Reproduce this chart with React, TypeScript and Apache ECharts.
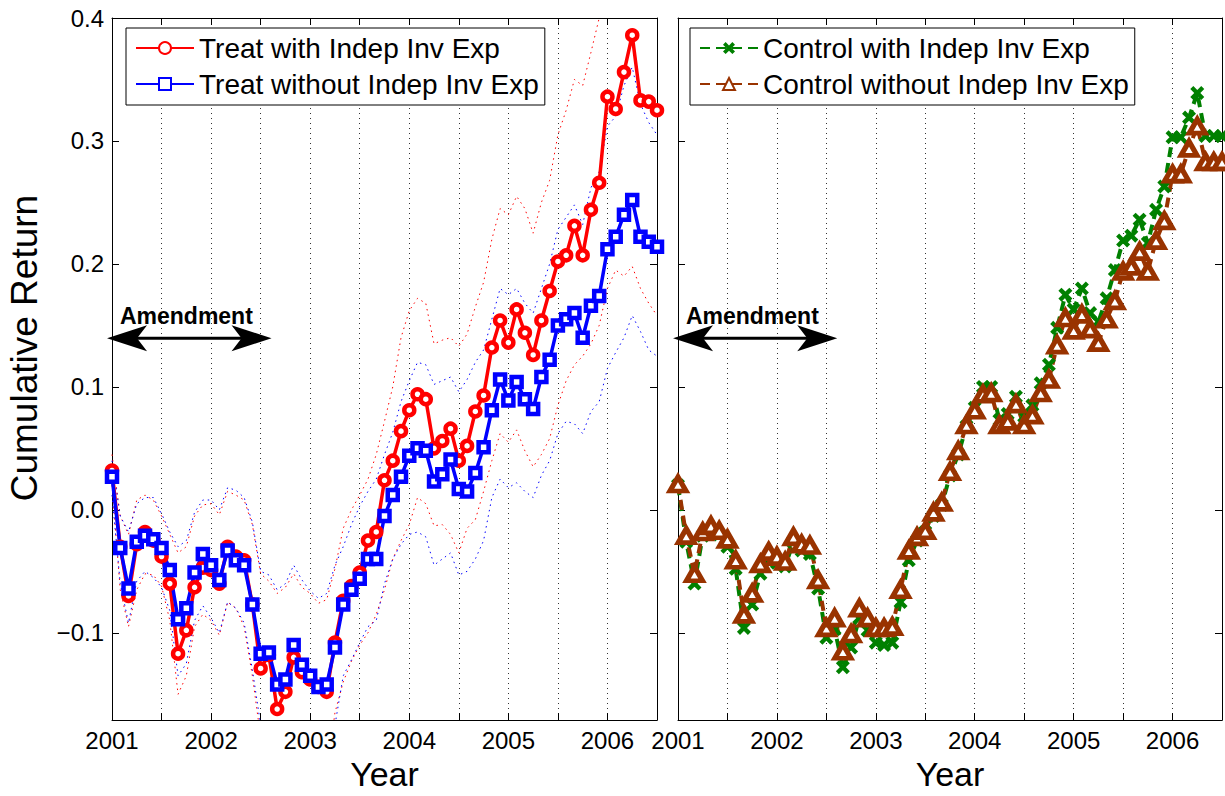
import React, { useEffect, useRef } from "react";
import * as echarts from "echarts";

// ---------- data (monthly, Jan 2001 .. Jul 2006) ----------
const startYear = 2001;
const monthCount = 67;

const treatWith = [
  0.032, -0.030, -0.070, -0.028, -0.018, -0.025, -0.038, -0.060, -0.117, -0.098,
  -0.063, -0.047, -0.049, -0.060, -0.030, -0.038, -0.041, -0.077, -0.129, -0.118,
  -0.162, -0.148, -0.120, -0.132, -0.138, -0.144, -0.148, -0.108, -0.074, -0.062,
  -0.051, -0.025, -0.018, 0.024, 0.040, 0.064, 0.081, 0.094, 0.090, 0.050,
  0.056, 0.066, 0.040, 0.052, 0.080, 0.093, 0.132, 0.154, 0.136, 0.163,
  0.144, 0.126, 0.154, 0.178, 0.202, 0.207, 0.231, 0.207, 0.244, 0.266,
  0.336, 0.326, 0.356, 0.386, 0.333, 0.332, 0.325,
];
const treatWithout = [
  0.027, -0.031, -0.064, -0.026, -0.021, -0.024, -0.031, -0.049, -0.089, -0.080,
  -0.051, -0.036, -0.045, -0.057, -0.033, -0.041, -0.045, -0.077, -0.117, -0.116,
  -0.142, -0.138, -0.110, -0.126, -0.135, -0.144, -0.142, -0.112, -0.077, -0.065,
  -0.056, -0.040, -0.040, -0.005, 0.012, 0.027, 0.044, 0.050, 0.048, 0.023,
  0.029, 0.041, 0.017, 0.015, 0.030, 0.051, 0.081, 0.106, 0.089, 0.104,
  0.090, 0.082, 0.108, 0.122, 0.150, 0.155, 0.160, 0.140, 0.166, 0.174,
  0.212, 0.222, 0.240, 0.252, 0.222, 0.218, 0.214,
];
const controlWith = [
  0.020, -0.026, -0.060, -0.021, -0.016, -0.020, -0.030, -0.048, -0.096, -0.077,
  -0.052, -0.040, -0.043, -0.046, -0.026, -0.033, -0.036, -0.064, -0.104, -0.097,
  -0.128, -0.112, -0.088, -0.098, -0.108, -0.110, -0.108, -0.075, -0.041, -0.025,
  -0.018, -0.005, 0.004, 0.028, 0.045, 0.068, 0.083, 0.100, 0.100, 0.073,
  0.078, 0.092, 0.076, 0.085, 0.103, 0.118, 0.148, 0.175, 0.163, 0.180,
  0.160, 0.153, 0.172, 0.195, 0.219, 0.223, 0.236, 0.217, 0.244, 0.263,
  0.303, 0.303, 0.319, 0.339, 0.304, 0.304, 0.304,
];
const controlWithout = [
  0.021, -0.021, -0.052, -0.018, -0.013, -0.017, -0.024, -0.041, -0.085, -0.068,
  -0.044, -0.034, -0.038, -0.042, -0.022, -0.028, -0.029, -0.057, -0.096, -0.088,
  -0.115, -0.101, -0.080, -0.088, -0.096, -0.096, -0.095, -0.065, -0.033, -0.022,
  -0.017, -0.002, 0.006, 0.031, 0.048, 0.069, 0.081, 0.094, 0.095, 0.069,
  0.072, 0.086, 0.069, 0.077, 0.095, 0.106, 0.134, 0.156, 0.146, 0.159,
  0.147, 0.136, 0.155, 0.170, 0.194, 0.198, 0.210, 0.194, 0.219, 0.235,
  0.273, 0.273, 0.294, 0.312, 0.283, 0.283, 0.283,
];

// confidence bands (dotted)
const treatWithUpper = [
  0.045, -0.005, -0.020, 0.008, 0.012, 0.008, -0.005, -0.020, -0.035, -0.030,
  -0.005, 0.004, 0.005, -0.004, 0.015, 0.012, 0.008, -0.012, -0.052, -0.058,
  -0.068, -0.063, -0.052, -0.063, -0.068, -0.076, -0.073, -0.048, -0.015, 0.000,
  0.012, 0.025, 0.045, 0.072, 0.100, 0.140, 0.162, 0.172, 0.168, 0.135,
  0.138, 0.140, 0.133, 0.143, 0.165, 0.185, 0.220, 0.245, 0.240, 0.255,
  0.245, 0.225, 0.250, 0.268, 0.305, 0.325, 0.350, 0.345, 0.372, 0.400,
  0.430, 0.425, 0.450, 0.480, 0.430, 0.425, 0.420,
];
const treatWithLower = [
  0.020, -0.065, -0.095, -0.065, -0.052, -0.053, -0.062, -0.090, -0.150, -0.135,
  -0.095, -0.085, -0.090, -0.102, -0.075, -0.080, -0.095, -0.135, -0.185, -0.180,
  -0.220, -0.210, -0.180, -0.200, -0.210, -0.220, -0.215, -0.165, -0.140, -0.123,
  -0.110, -0.100, -0.085, -0.065, -0.040, -0.025, -0.012, 0.010, 0.005, -0.013,
  -0.012, -0.020, -0.035, -0.015, -0.008, 0.015, 0.040, 0.062, 0.055, 0.065,
  0.048, 0.035, 0.045, 0.058, 0.085, 0.105, 0.118, 0.125, 0.135, 0.150,
  0.180, 0.195, 0.190, 0.198, 0.180, 0.168, 0.158,
];
const treatWithoutUpper = [
  0.040, -0.005, -0.018, 0.005, 0.010, 0.010, -0.003, -0.018, -0.030, -0.025,
  -0.002, 0.008, 0.008, 0.000, 0.018, 0.016, 0.010, -0.010, -0.050, -0.053,
  -0.065, -0.060, -0.045, -0.057, -0.066, -0.072, -0.068, -0.045, -0.030, -0.012,
  0.003, 0.015, 0.025, 0.045, 0.063, 0.088, 0.105, 0.120, 0.118, 0.102,
  0.105, 0.108, 0.096, 0.106, 0.120, 0.130, 0.155, 0.180, 0.175, 0.180,
  0.168, 0.160, 0.180, 0.200, 0.228, 0.238, 0.248, 0.232, 0.262, 0.275,
  0.312, 0.320, 0.345, 0.360, 0.330, 0.315, 0.305,
];
const treatWithoutLower = [
  0.012, -0.060, -0.092, -0.058, -0.050, -0.055, -0.063, -0.082, -0.135, -0.125,
  -0.090, -0.078, -0.088, -0.100, -0.075, -0.080, -0.092, -0.130, -0.175, -0.180,
  -0.210, -0.210, -0.180, -0.190, -0.200, -0.210, -0.210, -0.175, -0.135, -0.122,
  -0.108, -0.095, -0.090, -0.060, -0.040, -0.028, -0.020, -0.018, -0.022, -0.045,
  -0.040, -0.035, -0.053, -0.050, -0.040, -0.025, 0.010, 0.025, 0.018, 0.022,
  0.015, 0.010, 0.028, 0.040, 0.062, 0.072, 0.070, 0.062, 0.080, 0.088,
  0.115, 0.128, 0.140, 0.158, 0.145, 0.130, 0.125,
];

const seriesNames = [
  "Treat with Indep Inv Exp",
  "Treat without Indep Inv Exp",
  "Control with Indep Inv Exp",
  "Control without Indep Inv Exp",
];

const xMin = 2001;
const xMax = 2006.5;
const xStep = 0.5;
const yMin = -0.171;
const yMax = 0.4;

// Amendment annotation (data coordinates)
const amendStart = 2000.95;
const amendEnd = 2002.61;
const amendY = 0.1395;
const amendTextX = 2001.08;
const amendTextY = 0.158;
const amendLabel = "Amendment";

const FONT = "'Liberation Sans', Arial, Helvetica, sans-serif";

const months = Array.from({ length: monthCount }, (_, i) => startYear + i / 12);
const pts = (arr: number[]) => months.map((m, i) => [m, arr[i]]);

const X_PATH =
  "path://M0,3.5 L3.5,0 L8,4.5 L12.5,0 L16,3.5 L11.5,8 L16,12.5 L12.5,16 L8,11.5 L3.5,16 L0,12.5 L4.5,8 Z";

export default function App() {
  const ref = useRef<HTMLDivElement>(null);

  useEffect(() => {
    const el = ref.current;
    if (!el) return;
    const chart = echarts.init(el, null, { renderer: "svg" });

    const isInt = (v: number) => Math.abs(v - Math.round(v)) < 1e-6;
    const yFmt = (v: number) => {
      const k = Math.round(v * 10);
      if (Math.abs(v * 10 - k) > 1e-6) return "";
      const s = (k / 10).toFixed(1);
      return s.replace("-", "\u2212");
    };

    const xAxisFor = (g: number, pos: "bottom" | "top") => ({
      gridIndex: g,
      type: "value",
      position: pos,
      min: xMin,
      max: xMax,
      interval: xStep,
      axisLine: { show: true, onZero: false, lineStyle: { color: "#000", width: 1 } },
      axisTick: { show: true, inside: true, length: 7, lineStyle: { color: "#000", width: 1 } },
      axisLabel:
        pos === "bottom"
          ? {
              show: true,
              formatter: (v: number) => (isInt(v) ? String(Math.round(v)) : ""),
              fontSize: 24,
              color: "#000",
              fontFamily: FONT,
              margin: 8,
            }
          : { show: false },
      splitLine:
        pos === "bottom"
          ? { show: true, lineStyle: { color: "#333", width: 1, type: [1, 4] } }
          : { show: false },
      name: pos === "bottom" ? "Year" : "",
      nameLocation: "middle",
      nameGap: 33,
      nameTextStyle: { fontSize: 34, color: "#000", fontFamily: FONT },
    });

    const yAxisFor = (g: number, pos: "left" | "right", labels: boolean) => ({
      gridIndex: g,
      type: "value",
      position: pos,
      min: yMin,
      max: yMax,
      splitNumber: 5,
      axisLine: { show: true, onZero: false, lineStyle: { color: "#000", width: 1 } },
      axisTick: { show: true, inside: true, length: 7, lineStyle: { color: "#000", width: 1 } },
      axisLabel: labels
        ? { show: true, formatter: yFmt, fontSize: 24, color: "#000", fontFamily: FONT, margin: 8 }
        : { show: false },
      splitLine: { show: false },
      name: labels ? "Cumulative Return" : "",
      nameLocation: "middle",
      nameGap: 69,
      nameTextStyle: { fontSize: 37, color: "#000", fontFamily: FONT, padding: [0, 0, 0, 42] },
    });

    const band = (arr: number[], color: string) => ({
      type: "line",
      xAxisIndex: 0,
      yAxisIndex: 0,
      data: pts(arr),
      symbol: "none",
      showSymbol: false,
      silent: true,
      legendHoverLink: false,
      lineStyle: { color, width: 1, type: [1.5, 4] },
      z: 1,
    });

    const legendBase = {
      orient: "vertical",
      top: 28,
      itemWidth: 58,
      itemHeight: 15,
      itemGap: 8,
      padding: [6, 6, 7, 9],
      borderColor: "#000",
      borderWidth: 1,
      borderRadius: 0,
      backgroundColor: "#fff",
      selectedMode: false,
      textStyle: { fontSize: 28, color: "#000", fontFamily: FONT },
    };

    const option: any = {
      animation: false,
      backgroundColor: "#fff",
      textStyle: { fontFamily: FONT },
      grid: [
        { left: 112, top: 18, width: 545, height: 708, containLabel: false },
        { left: 678, top: 18, width: 546, height: 708, containLabel: false },
      ],
      xAxis: [xAxisFor(0, "bottom"), xAxisFor(0, "top"), xAxisFor(1, "bottom"), xAxisFor(1, "top")],
      yAxis: [
        yAxisFor(0, "left", true),
        yAxisFor(0, "right", false),
        yAxisFor(1, "left", false),
        yAxisFor(1, "right", false),
      ],
      legend: [
        { ...legendBase, data: [seriesNames[0], seriesNames[1]], left: 126 },
        { ...legendBase, data: [seriesNames[2], seriesNames[3]], left: 690 },
      ],
      series: [
        band(treatWithUpper, "#ff0000"),
        band(treatWithLower, "#ff0000"),
        band(treatWithoutUpper, "#0000ff"),
        band(treatWithoutLower, "#0000ff"),
        {
          name: seriesNames[0],
          type: "line",
          xAxisIndex: 0,
          yAxisIndex: 0,
          data: pts(treatWith),
          symbol: "circle",
          symbolSize: 10,
          itemStyle: { color: "#ffffff", borderColor: "#ff0000", borderWidth: 4.5 },
          lineStyle: { color: "#ff0000", width: 3.5 },
          z: 3,
        },
        {
          name: seriesNames[1],
          type: "line",
          xAxisIndex: 0,
          yAxisIndex: 0,
          data: pts(treatWithout),
          symbol: "rect",
          symbolSize: 10,
          itemStyle: { color: "#ffffff", borderColor: "#0000ff", borderWidth: 4.5 },
          lineStyle: { color: "#0000ff", width: 3.5 },
          z: 3,
        },
        {
          name: seriesNames[2],
          type: "line",
          xAxisIndex: 2,
          yAxisIndex: 2,
          data: pts(controlWith),
          symbol: X_PATH,
          symbolSize: 14,
          itemStyle: { color: "#008000" },
          lineStyle: { color: "#008000", width: 4, type: [10, 6] },
          z: 3,
        },
        {
          name: seriesNames[3],
          type: "line",
          xAxisIndex: 2,
          yAxisIndex: 2,
          data: pts(controlWithout),
          symbol: "triangle",
          symbolSize: [16, 14],
          itemStyle: { color: "#ffffff", borderColor: "#993300", borderWidth: 5 },
          lineStyle: { color: "#993300", width: 4, type: [10, 6] },
          z: 3,
        },
      ],
    };

    chart.setOption(option);

    // Amendment arrows, positioned through each panel's own axes
    const graphics: any[] = [];
    [0, 1].forEach((g) => {
      const finder = { xAxisIndex: g * 2, yAxisIndex: g * 2 };
      const p0 = chart.convertToPixel(finder, [amendStart, amendY]) as number[];
      const p1 = chart.convertToPixel(finder, [amendEnd, amendY]) as number[];
      const pt = chart.convertToPixel(finder, [amendTextX, amendTextY]) as number[];
      const y = p0[1];
      const hl = 40;
      const hh = 13;
      const notch = 30;
      graphics.push(
        {
          type: "line",
          shape: { x1: p0[0] + 10, y1: y, x2: p1[0] - 10, y2: y },
          style: { stroke: "#000", lineWidth: 3 },
          z: 10,
        },
        {
          type: "polygon",
          shape: {
            points: [
              [p0[0], y],
              [p0[0] + hl, y - hh],
              [p0[0] + notch, y],
              [p0[0] + hl, y + hh],
            ],
          },
          style: { fill: "#000" },
          z: 10,
        },
        {
          type: "polygon",
          shape: {
            points: [
              [p1[0], y],
              [p1[0] - hl, y - hh],
              [p1[0] - notch, y],
              [p1[0] - hl, y + hh],
            ],
          },
          style: { fill: "#000" },
          z: 10,
        },
        {
          type: "text",
          x: pt[0],
          y: pt[1],
          style: {
            text: amendLabel,
            fontSize: 23,
            fontWeight: "bold",
            fontFamily: FONT,
            fill: "#000",
            align: "left",
            verticalAlign: "middle",
          },
          z: 10,
        }
      );
    });
    chart.setOption({ graphic: graphics });

    return () => {
      chart.dispose();
    };
  }, []);

  return (
    <div
      ref={ref}
      style={{ position: "fixed", left: 0, top: 0, width: 1225, height: 796, background: "#fff" }}
    />
  );
}
